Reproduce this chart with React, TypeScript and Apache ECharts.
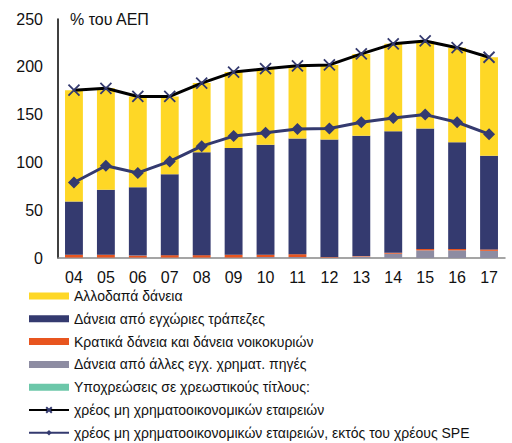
import React, { useEffect, useRef } from "react";
import * as echarts from "echarts";

const categories = ["04", "05", "06", "07", "08", "09", "10", "11", "12", "13", "14", "15", "16", "17"];
const debtSecurities = [0, 0, 0, 0, 0, 0, 0, 0, 0, 0, 0, 0, 0, 0];
const otherDomesticFin = [0.5, 0.5, 0.5, 0.5, 0.5, 0.5, 1, 1, 0.5, 1.5, 4.5, 8, 8, 7.5];
const govHouseholdLoans = [3, 3, 2, 2.5, 2.5, 3, 2.5, 3, 0.5, 0.5, 1, 1.5, 1.5, 1.5];
const domesticBankLoans = [55.5, 68, 71.5, 84.5, 107.5, 111.5, 115, 121, 123, 126, 127, 126, 111.5, 98];
const foreignLoans = [116.5, 106, 95, 81.5, 72.5, 79.5, 79.5, 76, 78, 85.5, 91.5, 91.5, 99, 103];
const totalDebt = [175.5, 177.5, 169, 169, 183, 194.5, 198, 201, 202, 213.5, 224, 227, 220, 210];
const debtExSPE = [79, 96.5, 89, 101, 117, 127.5, 131, 135, 135.5, 142, 146.5, 150, 142, 129.5];

const names = {
  foreign: "Αλλοδαπά δάνεια",
  banks: "Δάνεια από εγχώριες τράπεζες",
  gov: "Κρατικά δάνεια και δάνεια νοικοκυριών",
  other: "Δάνεια από άλλες εγχ. χρηματ. πηγές",
  sec: "Υποχρεώσεις σε χρεωστικούς τίτλους:",
  total: "χρέος μη χρηματοοικονομικών εταιρειών",
  exSpe: "χρέος μη χρηματοοικονομικών εταιρειών, εκτός του χρέους SPE",
};

const FONT = "Liberation Sans, Arial, sans-serif";
const NAVY = "#343a6f";

export default function App() {
  const ref = useRef<HTMLDivElement>(null);
  useEffect(() => {
    if (!ref.current) return;
    const chart = echarts.init(ref.current, null, { renderer: "svg" });
    const bar = (name: string, data: number[], color: string) => ({
      name,
      type: "bar",
      stack: "a",
      data,
      barWidth: "56%",
      itemStyle: { color },
    });
    chart.setOption({
      animation: false,
      textStyle: { fontFamily: FONT },
      grid: { left: 58, right: 7, top: 19, bottom: 185 },
      xAxis: {
        type: "category",
        data: categories,
        axisLine: { lineStyle: { color: "#888888", width: 1.5 } },
        axisTick: { show: false },
        axisLabel: { color: "#111", fontSize: 16, margin: 11, fontFamily: FONT },
      },
      yAxis: {
        type: "value",
        min: 0,
        max: 250,
        interval: 50,
        axisLine: { show: true, lineStyle: { color: "#000", width: 1.5 } },
        axisTick: { show: false },
        splitLine: { show: false },
        axisLabel: { color: "#111", fontSize: 16, margin: 15, fontFamily: FONT },
      },
      graphic: [
        {
          type: "text",
          left: 70,
          top: 11,
          style: { text: "% του ΑΕΠ", fontSize: 16, fill: "#111", fontFamily: FONT },
        },
      ],
      legend: {
        orient: "vertical",
        left: 28,
        top: 288,
        height: 170,
        padding: 0,
        itemWidth: 40,
        itemHeight: 7,
        itemGap: 6.8,
        textStyle: { fontSize: 14, color: "#111", lineHeight: 16, fontFamily: FONT, padding: [0, 0, 0, 0] },
        data: [
          { name: names.foreign, icon: "rect" },
          { name: names.banks, icon: "rect" },
          { name: names.gov, icon: "rect" },
          { name: names.other, icon: "rect" },
          { name: names.sec, icon: "rect" },
          { name: names.total },
          { name: names.exSpe },
        ],
      },
      series: [
        bar(names.sec, debtSecurities, "#6cc7a9"),
        bar(names.other, otherDomesticFin, "#8d8ca2"),
        bar(names.gov, govHouseholdLoans, "#e8551f"),
        bar(names.banks, domesticBankLoans, NAVY),
        bar(names.foreign, foreignLoans, "#fed726"),
        {
          name: names.total,
          type: "line",
          data: totalDebt,
          symbol: "path://M0,0L10,10M10,0L0,10",
          symbolSize: 11,
          lineStyle: { color: "#000", width: 3 },
          itemStyle: { color: NAVY, borderColor: NAVY, borderWidth: 1.8 },
          z: 5,
        },
        {
          name: names.exSpe,
          type: "line",
          data: debtExSPE,
          symbol: "diamond",
          symbolSize: 12,
          lineStyle: { color: NAVY, width: 3 },
          itemStyle: { color: NAVY },
          z: 5,
        },
      ],
    });
    return () => chart.dispose();
  }, []);
  return <div ref={ref} style={{ position: "absolute", left: 0, top: 0, width: 512, height: 443 }} />;
}
